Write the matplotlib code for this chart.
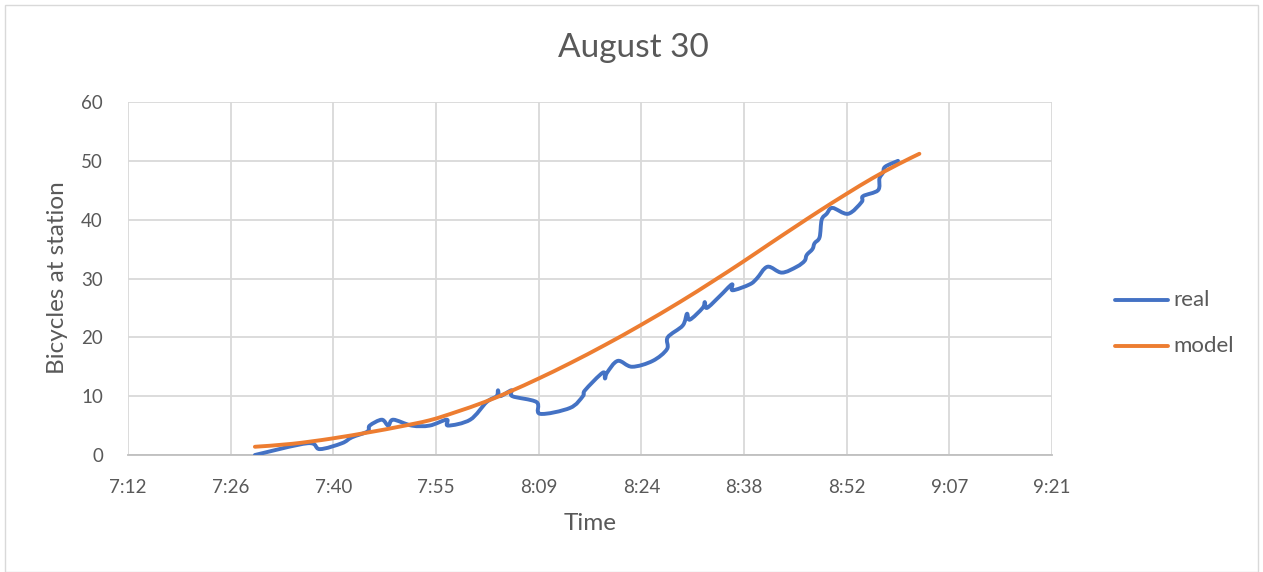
import numpy as np
import matplotlib
matplotlib.use("Agg")
import matplotlib.pyplot as plt
from matplotlib.path import Path
from matplotlib.patches import PathPatch, Rectangle
from matplotlib.lines import Line2D

plt.rcParams['font.family'] = ['Lato', 'DejaVu Sans']

# observed bikes at the station (time in minutes after midnight)
real_min = [449.8, 457.2, 458.9, 462.0, 463.4, 465.6, 465.9, 467.6, 468.5, 469.2,
            471.8, 474.3, 476.7, 476.9, 480.0, 482.3, 483.7, 483.9, 484.2, 485.8,
            485.9, 489.3, 489.8, 494.0, 495.8, 496.1, 498.6, 498.9, 499.2, 500.7,
            502.7, 505.6, 507.6, 507.7, 509.8, 510.4, 510.8, 512.6, 512.9, 513.2,
            515.0, 516.7, 516.8, 519.2, 520.2, 521.7, 523.7, 525.8, 526.9, 527.2,
            528.0, 528.3, 529.0, 529.3, 530.0, 530.8, 533.0, 534.9, 535.1, 537.2,
            537.4, 537.9, 538.2, 540.0]
real_bikes = [0, 2, 1, 2, 3, 4, 5, 6, 5, 6,
              5, 5, 6, 5, 6, 9, 10, 11, 10, 11,
              10, 9, 7, 8, 10, 11, 14, 13, 14, 16,
              15, 16, 18, 20, 22, 24, 23, 25, 26, 25,
              27, 29, 28, 29, 30, 32, 31, 32, 33, 34,
              35, 36, 37, 40, 41, 42, 41, 43, 44, 45,
              47, 48, 49, 50]

# fitted model
model_min = [449.8, 455.0, 460.6, 466.0, 470.0, 474.3, 478.0, 482.0, 485.6, 489.6,
             494.0, 498.9, 503.8, 509.4, 514.0, 518.2, 522.0, 525.6, 529.0, 532.8,
             536.5, 540.0, 543.0]
model_bikes = [1.4, 1.9, 2.8, 3.9, 4.8, 5.9, 7.3, 9.0, 10.8, 13.0,
               15.6, 18.7, 22.0, 26.0, 29.5, 32.8, 35.9, 38.8, 41.5, 44.4,
               47.1, 49.4, 51.2]

tick_labels = ["7:12", "7:26", "7:40", "7:55", "8:09", "8:24", "8:38", "8:52", "9:07", "9:21"]
tick_start = 432.0   # 7:12
tick_step = 14.4     # 0.01 day

BLUE = "#4472C4"
ORANGE = "#ED7D31"
TEXT = "#595959"
GRID = "#d9d9d9"


def smooth_path(xs, ys):
    """Catmull-Rom style smoothed line as cubic Bezier segments."""
    p = np.column_stack([xs, ys]).astype(float)
    n = len(p)
    verts = [p[0]]
    codes = [Path.MOVETO]
    for i in range(n - 1):
        p0 = p[i - 1] if i > 0 else p[i]
        p1 = p[i]
        p2 = p[i + 1]
        p3 = p[i + 2] if i + 2 < n else p[i + 1]
        c1 = p1 + (p2 - p0) / 6.0
        c2 = p2 - (p3 - p1) / 6.0
        verts += [c1, c2, p2]
        codes += [Path.CURVE4] * 3
    return Path(verts, codes)


W, H = 1263, 572
fig = plt.figure(figsize=(W / 100, H / 100), dpi=100)
fig.add_artist(Rectangle((5 / W, 0), (W - 10) / W, 1 - 5 / H, transform=fig.transFigure,
                         fill=False, edgecolor=GRID, lw=1))

ax = fig.add_axes([128 / W, 1 - 455 / H, (1052 - 128) / W, (455 - 102) / H])

for xs, ys, col in [(model_min, model_bikes, ORANGE), (real_min, real_bikes, BLUE)]:
    patch = PathPatch(smooth_path(xs, ys), facecolor="none", edgecolor=col, lw=2.8,
                      capstyle="round", joinstyle="round", zorder=3 if col == BLUE else 4)
    ax.add_patch(patch)

xticks = [tick_start + tick_step * i for i in range(len(tick_labels))]
ax.set_xlim(xticks[0], xticks[-1])
ax.set_ylim(0, 60)
ax.set_xticks(xticks)
ax.set_xticklabels(tick_labels)
ax.set_yticks(range(0, 61, 10))
ax.tick_params(length=0, labelsize=13.5, labelcolor=TEXT)
ax.tick_params(axis="x", pad=17)
ax.tick_params(axis="y", pad=18)
ax.grid(True, color=GRID, lw=1.3)
ax.set_axisbelow(True)
for side in ["top", "right", "left"]:
    ax.spines[side].set_visible(False)
ax.spines["bottom"].set_color("#bfbfbf")
ax.spines["bottom"].set_linewidth(1.3)

fig.text(633 / W, 1 - 48 / H, "August 30", ha="center", va="center", fontsize=24, color=TEXT)
fig.text(590 / W, 1 - 524 / H, "Time", ha="center", va="center", fontsize=17.5, color=TEXT)
fig.text(58 / W, 1 - 278 / H, "Bicycles at station", ha="center", va="center",
         rotation=90, fontsize=17.5, color=TEXT)

# legend on the right
for label, col, yy in [("real", BLUE, 300), ("model", ORANGE, 346)]:
    fy = 1 - yy / H
    fig.add_artist(Line2D([1115 / W, 1168 / W], [fy, fy], transform=fig.transFigure,
                          color=col, lw=2.8, solid_capstyle="round"))
    fig.text(1173 / W, fy, label, ha="left", va="center", fontsize=16, color=TEXT)

fig.savefig("out.png", dpi=100)
